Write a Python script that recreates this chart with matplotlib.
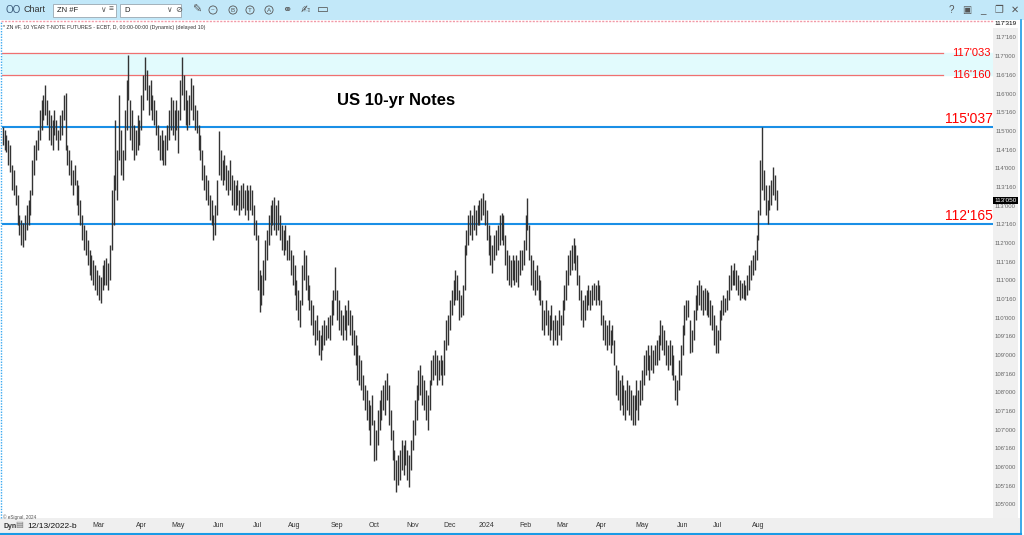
import numpy as np
import pandas as pd
import matplotlib
matplotlib.use("Agg")
import matplotlib.pyplot as plt
from matplotlib.patches import Rectangle
from matplotlib.lines import Line2D
from pandas.tseries.holiday import USFederalHolidayCalendar
from pandas.tseries.offsets import CustomBusinessDay

plt.rcParams['font.family'] = ['Liberation Sans', 'DejaVu Sans']

# daily bars, ZN #F (decimal points, not 32nds)
highs = [
    115.12, 115.04, 114.90, 114.77, 114.64, 114.10, 113.97, 113.57, 113.30, 112.76, 112.63, 112.56, 112.76,  # Dec 22
    113.03, 113.16, 113.43, 114.23, 114.64, 114.77, 115.04, 115.57, 115.84, 115.97, 116.24, 115.84, 115.57, 115.44, 115.31, 115.57, 115.31, 115.04, 115.44, 115.57,  # Jan
    115.97, 116.04, 114.64, 114.50, 114.23, 113.97, 114.10, 113.70, 113.57, 113.16, 112.76, 112.49, 112.36, 112.09, 111.83, 111.69, 111.56, 111.42, 111.29,  # Feb
    111.16, 111.09, 111.42, 111.56, 111.62, 111.49, 111.96, 113.43, 113.83, 115.31, 114.50, 115.97, 115.04, 114.50, 115.57, 116.38, 117.05, 115.84, 115.57, 115.17, 115.04, 115.44, 115.31,  # Mar
    115.97, 116.51, 116.98, 116.64, 116.24, 116.38, 115.97, 115.84, 115.57, 115.17, 114.90, 115.04, 114.77, 114.90, 115.17, 115.57, 115.91, 115.84, 115.57, 115.84,  # Apr
    115.57, 116.38, 116.99, 116.51, 116.11, 115.84, 115.97, 116.44, 116.24, 115.71, 115.57, 115.17, 114.90, 114.50, 114.10, 113.83, 113.70, 113.30, 113.16, 112.76, 113.03, 113.70,  # May
    115.01, 114.50, 114.23, 114.37, 114.10, 113.97, 114.23, 113.83, 113.70, 113.57, 113.70, 113.43, 113.57, 113.62, 113.43, 113.57, 113.43, 113.57, 113.43, 113.03, 112.63,  # Jun
    112.23, 111.29, 111.16, 111.56, 112.09, 112.36, 112.76, 113.03, 113.16, 113.24, 113.03, 113.16, 112.76, 112.49, 112.36, 112.49, 112.09, 112.23, 111.83, 111.69,  # Jul
    111.42, 111.02, 110.75, 110.49, 111.42, 111.83, 111.69, 111.16, 110.89, 110.49, 110.35, 109.95, 110.09, 109.68, 109.55, 109.82, 109.95, 109.82, 110.02, 110.09, 110.49, 110.75, 111.37,  # Aug
    110.75, 110.49, 110.22, 110.09, 110.35, 110.22, 110.49, 110.22, 110.09, 109.68, 109.55, 109.28, 109.01, 108.88, 108.48, 108.21, 108.08, 107.81, 107.68, 107.94,  # Sep
    107.28, 107.01, 107.54, 107.81, 108.08, 108.21, 108.35, 108.53, 108.21, 107.54, 107.01, 106.47, 106.20, 106.34, 106.47, 106.74, 106.61, 106.74, 106.47, 106.34, 106.74,  # Oct
    107.28, 107.81, 108.21, 108.61, 108.75, 108.48, 108.35, 108.08, 107.94, 108.35, 108.88, 109.01, 109.15, 109.01, 108.88, 109.01, 108.88, 109.42, 109.95, 110.09,  # Nov
    110.49, 110.75, 111.02, 111.29, 111.16, 110.75, 110.62, 110.89, 111.96, 112.36, 112.76, 112.90, 112.76, 113.03, 112.90, 113.03, 113.16, 113.22, 113.36, 113.16,  # Dec
    112.90, 112.49, 112.23, 111.96, 112.23, 112.36, 112.49, 112.76, 112.82, 112.76, 112.23, 111.83, 111.69, 111.56, 111.69, 111.56, 111.69, 111.56, 111.83, 111.83, 112.09,  # Jan 24
    112.76, 113.22, 112.49, 111.69, 111.56, 111.29, 111.42, 111.16, 111.02, 110.49, 110.22, 110.49, 110.22, 110.09, 110.35, 109.95, 110.09, 109.95, 110.22, 110.09,  # Feb
    110.49, 110.89, 111.29, 111.69, 111.83, 111.96, 112.15, 111.96, 111.69, 111.16, 110.75, 110.49, 110.62, 110.75, 110.89, 110.75, 110.89, 110.95, 110.89, 111.02, 110.89,  # Mar
    110.49, 110.09, 109.95, 109.82, 109.95, 109.68, 109.82, 109.42, 108.75, 108.61, 108.35, 108.48, 108.21, 108.08, 108.35, 108.21, 108.08, 107.94, 107.94, 108.35, 108.08, 108.35,  # Apr
    108.61, 109.01, 109.15, 109.28, 109.01, 109.28, 109.15, 109.28, 109.42, 109.55, 109.95, 109.82, 109.68, 109.42, 109.28, 109.42, 109.28, 109.01, 108.48, 108.35, 108.88, 109.28,  # May
    109.82, 110.35, 110.49, 110.49, 109.95, 109.68, 110.22, 110.62, 110.89, 111.02, 110.89, 110.75, 110.82, 110.75, 110.69, 110.49, 110.35, 110.09, 109.82,  # Jun
    109.68, 110.22, 110.49, 110.62, 110.55, 110.75, 111.16, 111.42, 111.29, 111.48, 111.29, 111.16, 111.02, 110.95, 111.02, 110.89, 111.16, 111.42, 111.56, 111.69, 111.83, 112.23,  # Jul
    112.90, 114.23, 115.12, 113.97, 113.57, 113.16, 113.57, 113.70, 114.04, 113.83, 113.43,  # Aug
]
lows = [
    114.64, 114.50, 114.45, 114.10, 113.91, 113.43, 113.30, 113.03, 112.49, 112.23, 111.96, 111.90, 112.09,
    112.36, 112.49, 112.76, 113.30, 113.83, 114.23, 114.50, 114.77, 115.04, 115.31, 115.44, 115.17, 114.77, 114.64, 114.50, 114.90, 114.77, 114.50, 114.77, 114.90,
    115.31, 114.50, 114.10, 113.83, 113.57, 113.30, 113.57, 113.03, 112.76, 112.49, 112.09, 111.83, 111.69, 111.42, 111.16, 111.02, 110.89, 110.75, 110.62,
    110.49, 110.41, 110.75, 110.89, 110.89, 110.75, 111.02, 111.83, 112.49, 113.43, 113.16, 114.23, 113.83, 113.70, 114.23, 115.04, 115.84, 114.77, 114.50, 114.23, 114.37, 114.50, 114.64,
    115.04, 115.57, 116.11, 115.84, 115.44, 115.57, 115.31, 115.17, 114.90, 114.50, 114.23, 114.23, 114.10, 114.10, 114.50, 114.77, 115.04, 114.90, 114.77, 115.04,
    114.42, 115.31, 115.97, 115.57, 115.17, 115.04, 115.17, 115.57, 115.31, 115.04, 114.95, 114.50, 114.23, 113.70, 113.43, 113.16, 113.03, 112.63, 112.49, 112.09, 112.23, 112.76,
    113.83, 113.70, 113.57, 113.70, 113.43, 113.30, 113.43, 113.03, 112.90, 112.90, 113.03, 112.76, 112.90, 112.96, 112.76, 112.90, 112.63, 112.90, 112.76, 112.23, 112.09,
    110.75, 110.17, 110.35, 110.62, 111.02, 111.56, 111.96, 112.23, 112.49, 112.36, 112.23, 112.36, 112.09, 111.83, 111.69, 111.83, 111.56, 111.56, 111.16, 110.89,
    110.62, 110.22, 109.95, 109.76, 110.35, 111.02, 110.75, 110.49, 110.22, 109.82, 109.55, 109.28, 109.42, 109.01, 108.88, 109.15, 109.28, 109.42, 109.48, 109.42, 109.82, 110.09, 110.49,
    109.95, 109.68, 109.55, 109.42, 109.68, 109.42, 109.82, 109.55, 109.28, 109.01, 108.75, 108.35, 108.21, 108.08, 107.81, 107.54, 107.28, 107.01, 106.60, 107.14,
    106.17, 106.20, 106.61, 107.01, 107.28, 107.54, 107.41, 107.81, 107.14, 106.74, 106.20, 105.67, 105.35, 105.54, 105.67, 105.94, 105.80, 106.07, 105.67, 105.48, 105.94,
    106.47, 106.87, 107.28, 107.81, 107.94, 107.68, 107.54, 107.28, 107.01, 107.54, 108.21, 108.35, 108.48, 108.21, 108.35, 108.48, 108.21, 108.48, 109.15, 109.28,
    109.68, 110.09, 110.35, 110.49, 110.49, 109.95, 110.02, 110.09, 110.75, 111.69, 111.96, 112.23, 112.09, 112.36, 112.23, 112.49, 112.49, 112.63, 112.76, 112.49,
    112.09, 111.69, 111.42, 111.22, 111.56, 111.69, 111.83, 111.96, 112.09, 111.96, 111.42, 111.02, 110.89, 110.83, 111.02, 110.89, 110.96, 110.83, 111.16, 111.29, 111.42,
    111.83, 112.36, 111.56, 110.89, 110.75, 110.62, 110.75, 110.49, 110.35, 109.68, 109.55, 109.82, 109.55, 109.42, 109.68, 109.28, 109.42, 109.28, 109.55, 109.42,
    109.82, 110.22, 110.49, 110.89, 111.16, 111.29, 111.49, 111.29, 110.89, 110.49, 109.95, 109.76, 109.95, 110.22, 110.35, 110.22, 110.35, 110.49, 110.35, 110.49, 110.35,
    109.82, 109.42, 109.28, 109.15, 109.28, 109.07, 109.28, 108.75, 107.94, 107.81, 107.54, 107.68, 107.41, 107.28, 107.54, 107.41, 107.28, 107.14, 107.14, 107.54, 107.28, 107.68,
    107.81, 108.21, 108.48, 108.61, 108.35, 108.61, 108.53, 108.75, 108.75, 108.88, 109.28, 109.15, 109.01, 108.75, 108.61, 108.75, 108.48, 108.35, 107.81, 107.68, 108.08, 108.48,
    109.01, 109.55, 109.95, 110.02, 109.07, 109.09, 109.42, 109.95, 110.22, 110.35, 110.22, 110.09, 110.22, 110.09, 110.02, 109.82, 109.68, 109.28, 109.07,
    109.07, 109.42, 109.95, 110.09, 110.17, 110.22, 110.49, 110.75, 110.89, 110.89, 110.75, 110.62, 110.49, 110.55, 110.52, 110.49, 110.62, 110.75, 111.02, 111.16, 111.29, 111.56,
    112.09, 112.76, 113.43, 113.16, 112.76, 112.52, 112.90, 113.03, 113.30, 113.16, 112.90,
]

last_price = 113.156            # 113'050
band_top, band_bottom = 117.1016, 116.5    # 117'033 / 116'160
blue_levels = [115.117, 112.516]           # 115'037 / 112'165
red_labels = ["117'033", "116'160"]
blue_labels = ["115'037", "112'165"]
title_text = "US 10-yr Notes"

W, H = 1024, 535
def fx(x):
    return x / W
def fy(y):
    return 1 - y / H

def fmt32(p):
    whole = int(np.floor(p))
    return "%d'%03d" % (whole, int(round((p - whole) * 320)))

bday = CustomBusinessDay(calendar=USFederalHolidayCalendar())
n = min(len(highs), len(lows))
dates = pd.date_range("2022-12-13", periods=n, freq=bday)
idx = np.arange(n)

fig = plt.figure(figsize=(10.24, 5.35), dpi=100)
fig.patch.set_facecolor("white")

ylo, yhi = 104.652, 117.955
xlo, xhi = -0.4, 536.0

# ---- main panel
ax = fig.add_axes([fx(2), fy(518), (993 - 2) / W, (518 - 21) / H])
ax.set_xlim(xlo, xhi)
ax.set_ylim(ylo, yhi)
ax.axis("off")

ax.axhspan(band_bottom, band_top, color="#e2fbfd", zorder=0)
for p in (band_top, band_bottom):
    ax.plot([xlo, 509], [p, p], color="#f07070", lw=0.9, zorder=1)
for p in blue_levels:
    ax.axhline(p, color="#1a8fe6", lw=1.5, zorder=1)

ax.vlines(idx, np.array(lows[:n]), np.array(highs[:n]), color="#333333", lw=1.0, zorder=3)

for p, lab in zip([band_top, band_bottom], red_labels):
    ax.text(0.998, p, lab, transform=ax.get_yaxis_transform(), ha="right",
            va="center", color="red", fontsize=8)
for p, lab in zip(blue_levels, blue_labels):
    ax.text(1.0, p + 0.04, lab, transform=ax.get_yaxis_transform(), ha="right",
            va="bottom", color="red", fontsize=10)

fig.text(fx(396), fy(100), title_text, ha="center", va="center",
         fontsize=12, fontweight="bold", color="black")

# ---- price scale on the right
axr = fig.add_axes([fx(993), fy(518), 25 / W, (518 - 21) / H])
axr.set_ylim(ylo, yhi)
axr.set_xlim(0, 1)
axr.set_facecolor("#f0f0f0")
axr.set_xticks([])
axr.set_yticks([])
for s in axr.spines.values():
    s.set_visible(False)
for p in np.arange(105.0, 117.51, 0.5):
    axr.text(0.5, p, fmt32(p), ha="center", va="center", fontsize=4.3, color="#666666")
axr.text(0.5, yhi - 0.07, "117'319", ha="center", va="center", fontsize=4.6, color="black",
         bbox=dict(boxstyle="square,pad=0.25", fc="white", ec="none"))
axr.text(0.5, last_price, fmt32(last_price), ha="center", va="center", fontsize=4.6,
         color="white", bbox=dict(boxstyle="square,pad=0.2", fc="black", ec="none"))

# ---- time scale at the bottom
fig.patches.append(Rectangle((0, fy(533)), fx(1020), 15 / H, transform=fig.transFigure,
                             fc="#efefef", ec="none", zorder=-2))
axb = fig.add_axes([fx(2), fy(533), (993 - 2) / W, 15 / H])
axb.set_xlim(xlo, xhi)
axb.set_ylim(0, 1)
axb.axis("off")
starts = [i for i in range(1, n) if dates[i].month != dates[i - 1].month]
for i in starts:
    if i < 45:   # first months sit under the start-date box
        continue
    lab = str(dates[i].year) if dates[i].month == 1 else dates[i].strftime("%b")
    axb.text(i, 0.5, lab, ha="center", va="center", fontsize=5, color="#333333")
fig.text(fx(3), fy(526), "Dyn", fontsize=5, fontweight="bold", va="center", color="#333333")
fig.text(fx(19), fy(526), "\u25a4", fontsize=6, va="center", ha="center", color="#777777")
fig.text(fx(27), fy(526), dates[0].strftime("%m/%d/%Y") + "-b", fontsize=6, va="center",
         color="#111111")
fig.text(fx(3), fy(517), "\u00a9 eSignal, 2024", fontsize=3.3, va="center", color="#555555")

# ---- frame lines
fig.lines.append(Line2D([0, fx(1021)], [fy(533.5)] * 2, transform=fig.transFigure,
                        color="#1a9be6", lw=1.5))
fig.lines.append(Line2D([fx(1021)] * 2, [fy(533.5), fy(20)], transform=fig.transFigure,
                        color="#1a9be6", lw=1.2))
fig.lines.append(Line2D([fx(1)] * 2, [fy(518), fy(21)], transform=fig.transFigure,
                        color="#3aa9f0", lw=1, ls=(0, (1, 1))))
fig.lines.append(Line2D([fx(1), fx(993)], [fy(21)] * 2, transform=fig.transFigure,
                        color="#f29aa8", lw=1, ls=(0, (1.5, 1))))

# ---- toolbar
fig.patches.append(Rectangle((0, fy(20)), 1, 20 / H, transform=fig.transFigure,
                             fc="#c2e8f9", ec="none", zorder=-2))
ty = fy(10)
fig.text(fx(5), ty, "OO", fontsize=7, va="center", color="#3a5a7a")
fig.text(fx(23), ty, "Chart", fontsize=6.5, va="center", color="#333333")
for x0, x1 in [(53, 116), (120, 181)]:
    fig.patches.append(Rectangle((fx(x0), fy(17)), fx(x1 - x0), 13 / H,
                                 transform=fig.transFigure, fc="white", ec="#9aa7b0", lw=0.6))
fig.text(fx(57), ty, "ZN #F", fontsize=5.5, va="center", color="#222222")
fig.text(fx(100), ty, "\u2228", fontsize=5.5, va="center", color="#555555")
fig.text(fx(109), ty, "\u2261", fontsize=6, va="center", color="#555555")
fig.text(fx(124), ty, "D", fontsize=5.5, va="center", color="#222222")
fig.text(fx(166), ty, "\u2228", fontsize=5.5, va="center", color="#555555")
fig.text(fx(175), ty, "\u2298", fontsize=6, va="center", color="#555555")
fig.text(fx(197), ty, "\u270e", fontsize=8, va="center", ha="center", color="#555555")
for x, s in [(213, "~"), (233, "B"), (250, "T"), (269, "A")]:
    fig.text(fx(x), ty, s, fontsize=4.5, va="center", ha="center", color="#555555",
             bbox=dict(boxstyle="circle,pad=0.25", fc="none", ec="#555555", lw=0.6))
fig.text(fx(287), ty, "\u26ad", fontsize=8, va="center", ha="center", color="#555555")
fig.text(fx(305), ty, "\u270d", fontsize=8, va="center", ha="center", color="#555555")
fig.text(fx(323), ty, "\u25ad", fontsize=9, va="center", ha="center", color="#555555")
fig.text(fx(951), ty, "?", fontsize=7, va="center", ha="center", color="#555555")
fig.text(fx(967), ty, "\u25a3", fontsize=7, va="center", ha="center", color="#555555")
fig.text(fx(983), ty, "_", fontsize=7, va="center", ha="center", color="#555555")
fig.text(fx(999), ty, "\u2750", fontsize=7, va="center", ha="center", color="#555555")
fig.text(fx(1015), ty, "\u2715", fontsize=7, va="center", ha="center", color="#555555")

fig.text(fx(3), fy(27), "* ZN #F, 10 YEAR T-NOTE FUTURES - ECBT, D, 00:00-00:00 (Dynamic) (delayed 10)",
         fontsize=3.8, va="center", color="#333333")

fig.savefig("out.png", dpi=100)
